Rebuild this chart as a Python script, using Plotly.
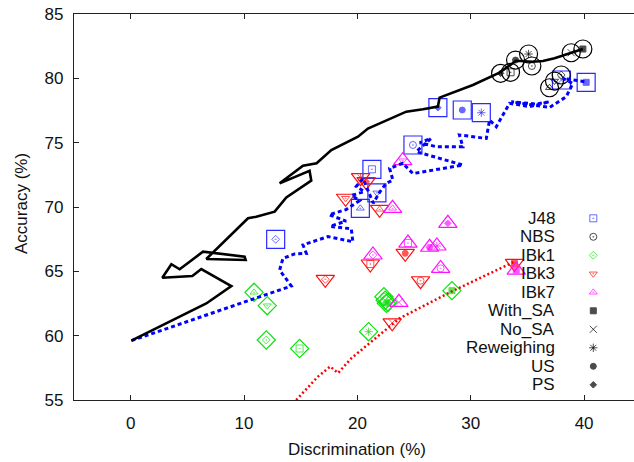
import plotly.graph_objects as go

# ---------------- data ----------------
methods = ["With_SA", "No_SA", "Reweighing", "US", "PS", "J48", "NBS", "IBk1", "IBk3", "IBk7"]

j48_x = [40.18, 38.00, 30.93, 29.25, 27.10, 21.28, 24.90, 12.79, 21.72, 20.26]
j48_y = [79.69, 79.87, 77.33, 77.54, 77.72, 72.93, 74.82, 67.49, 71.10, 69.90]

nbs_x = [39.89, 38.86, 35.10, 33.95, 32.63, 33.51, 35.39, 37.98, 37.39, 36.95]
nbs_y = [82.28, 81.99, 81.89, 81.42, 80.39, 80.47, 80.96, 80.26, 79.79, 79.27]

ibk1_x = [28.34, 22.45, 20.99, 22.55, 22.70, 14.90, 22.34, 11.96, 12.05, 10.88]
ibk1_y = [63.50, 62.75, 60.31, 62.51, 62.60, 59.00, 63.03, 59.66, 62.33, 63.37]

ibk3_x = [33.86, 23.07, 20.28, 24.22, 20.78, 21.14, 25.57, 17.17, 18.96, 21.96]
ibk3_y = [65.62, 61.00, 72.28, 66.40, 71.97, 65.57, 64.27, 64.38, 70.68, 69.82]

ibk7_x = [34.01, 23.66, 27.01, 26.37, 27.98, 24.46, 27.34, 21.37, 24.00, 23.10]
ibk7_y = [65.10, 62.59, 66.97, 66.87, 68.73, 67.20, 65.23, 66.27, 73.60, 69.90]

black_x = [0.06, 6.67, 8.88, 6.23, 5.44, 2.79, 3.59, 4.32, 5.20, 6.38, 10.05, 10.14, 6.67,
           9.02, 10.35, 11.08, 12.70, 13.73, 14.46, 15.93, 15.78, 13.14, 15.20, 16.40,
           17.70, 20.05, 20.93, 24.31, 25.78, 27.10, 27.25, 29.00, 30.19, 32.54, 34.00,
           35.48, 36.36, 37.39, 39.89]
black_y = [59.61, 62.50, 63.86, 65.18, 64.64, 64.50, 65.55, 65.16, 65.75, 66.53, 66.14, 65.88, 65.96,
           67.95, 69.12, 69.25, 69.64, 70.75, 71.19, 72.05, 72.82, 71.84, 73.20, 73.40,
           74.43, 75.46, 76.10, 77.41, 77.59, 77.80, 78.50, 79.09, 79.48, 80.44, 81.37,
           81.29, 81.35, 81.56, 82.28]

blue_x = [0.06, 14.17, 13.14, 13.43, 14.46, 15.49, 15.20, 17.40, 19.60, 19.46, 17.60, 19.00,
          17.50, 19.00, 20.20, 19.50, 20.60, 19.90, 20.50, 21.40, 22.00, 22.55, 23.13, 22.84,
          24.00, 24.90, 29.30, 25.20, 26.50, 25.50, 26.95, 29.30, 29.00, 31.37, 31.66, 32.25,
          33.42, 35.19, 36.95, 35.78, 33.57, 36.95, 38.42, 39.00, 38.13, 40.04]
blue_y = [59.61, 63.86, 65.10, 66.00, 66.35, 66.40, 67.05, 67.70, 67.30, 68.30, 68.50, 68.90,
          69.40, 69.80, 70.50, 70.90, 71.20, 71.60, 72.20, 70.30, 71.20, 71.84, 72.10, 73.00,
          73.40, 72.60, 73.26, 74.30, 75.33, 75.00, 74.69, 74.69, 75.60, 75.33, 76.76, 76.24,
          78.06, 77.80, 78.18, 78.00, 78.18, 77.74, 78.57, 79.60, 80.00, 79.74]

red_x = [14.60, 16.50, 17.60, 18.30, 19.46, 23.72, 28.28, 33.86]
red_y = [55.00, 56.80, 57.60, 57.10, 58.24, 61.35, 63.42, 65.75]

classifier_names = ["J48", "NBS", "IBk1", "IBk3", "IBk7"]
legend_labels = classifier_names + methods[:5]
x_ticks = [0, 10, 20, 30, 40]
y_ticks = [55, 60, 65, 70, 75, 80, 85]

# ---------------- styles ----------------
FONT = "Liberation Sans, Arial, Helvetica, sans-serif"
BLUE, GREEN, RED, MAG, BLK = "#2a2aff", "#10e010", "#ff1010", "#ff10ff", "#000000"

inner_sym = {"With_SA": "square", "No_SA": "x-thin-open", "Reweighing": "asterisk-open",
             "US": "circle", "PS": "diamond", "J48": "square-open-dot", "NBS": "circle-open-dot",
             "IBk1": "diamond-open-dot", "IBk3": "triangle-down-open-dot", "IBk7": "triangle-up-open-dot"}
inner_size = {"With_SA": 6, "No_SA": 7, "Reweighing": 7, "US": 6, "PS": 5, "J48": 7,
              "NBS": 7, "IBk1": 6, "IBk3": 7, "IBk7": 7}

classifiers = [
    (j48_x, j48_y, BLUE, "square-open", 18),
    (nbs_x, nbs_y, BLK, "circle-open", 18),
    (ibk1_x, ibk1_y, GREEN, "diamond-open", 14),
    (ibk3_x, ibk3_y, RED, "triangle-down-open", 16),
    (ibk7_x, ibk7_y, MAG, "triangle-up-open", 16),
]
class_colors = [BLUE, BLK, GREEN, RED, MAG]
class_small = ["square-open-dot", "circle-open-dot", "diamond-open-dot",
               "triangle-down-open-dot", "triangle-up-open-dot"]

fig = go.Figure()

for xs, ys, col, sym, sz in classifiers:
    fig.add_trace(go.Scatter(x=xs, y=ys, mode="markers", hoverinfo="skip", showlegend=False,
                             marker=dict(symbol=sym, size=sz, color=col,
                                         line=dict(width=1.2, color=col))))
    fig.add_trace(go.Scatter(x=xs, y=ys, mode="markers", hoverinfo="skip", showlegend=False,
                             marker=dict(symbol=[inner_sym[m] for m in methods],
                                         size=[inner_size[m] for m in methods], color=col,
                                         line=dict(width=1, color=col))))

fig.add_trace(go.Scatter(x=red_x, y=red_y, mode="lines", hoverinfo="skip", showlegend=False,
                         line=dict(color="#ff0000", width=2.5, dash="2px,2.5px")))
fig.add_trace(go.Scatter(x=blue_x, y=blue_y, mode="lines", hoverinfo="skip", showlegend=False,
                         line=dict(color="#0000ff", width=3, dash="4px,3px")))
fig.add_trace(go.Scatter(x=black_x, y=black_y, mode="lines", hoverinfo="skip", showlegend=False,
                         line=dict(color="#000000", width=2.6)))

# ---- key (legend) placed in pixel coordinates via an overlay axis ----
leg_y = [218.3 + 18.5 * i for i in range(len(legend_labels))]
leg_sym = class_small + [inner_sym[m] for m in methods[:5]]
leg_col = class_colors + [BLK] * 5
leg_size = [7, 7, 6, 7, 7, 6, 7, 7, 6, 5]
fig.add_trace(go.Scatter(x=[593.3] * len(leg_y), y=leg_y, xaxis="x2", yaxis="y2",
                         mode="markers", hoverinfo="skip", showlegend=False,
                         marker=dict(symbol=leg_sym, size=leg_size, color=leg_col,
                                     line=dict(width=1, color=leg_col))))

# pixel -> paper helpers (plot area: x 74..634, y 14..400)
def px(xp):
    return (xp - 74) / 560.0

def py(yp):
    return (400 - yp) / 386.0

annotations = []
for lab, yy in zip(legend_labels, leg_y):
    annotations.append(dict(x=px(557), y=py(yy), xref="paper", yref="paper", text=lab,
                            showarrow=False, xanchor="right", yanchor="middle",
                            font=dict(family=FONT, size=17, color="#111")))
annotations.append(dict(x=px(357), y=py(449.5), xref="paper", yref="paper",
                        text="Discrimination (%)", showarrow=False,
                        xanchor="center", yanchor="middle",
                        font=dict(family=FONT, size=17, color="#111")))
annotations.append(dict(x=px(21.7), y=py(203.3), xref="paper", yref="paper",
                        text="Accuracy (%)", showarrow=False,
                        xanchor="center", yanchor="middle", textangle=-90,
                        font=dict(family=FONT, size=17, color="#111")))

axis_common = dict(showgrid=False, zeroline=False, showline=True, linecolor="#222",
                   linewidth=1.2, ticks="inside", ticklen=5, tickwidth=1, tickcolor="#222",
                   tickfont=dict(family=FONT, size=17, color="#111"))

fig.update_layout(
    width=634, height=462,
    margin=dict(l=74, r=0, t=14, b=62),
    paper_bgcolor="white", plot_bgcolor="white",
    showlegend=False,
    xaxis=dict(range=[-5, 44.4], tickvals=x_ticks, mirror="ticks",
               ticklabelstandoff=7, **axis_common),
    yaxis=dict(range=[55, 85], tickvals=y_ticks, mirror=False,
               ticklabelstandoff=6, **axis_common),
    xaxis2=dict(range=[74, 634], overlaying="x", anchor="y2", visible=False, fixedrange=True),
    yaxis2=dict(range=[400, 14], overlaying="y", anchor="x2", visible=False, fixedrange=True),
    annotations=annotations,
)

fig.write_html("out.html")
